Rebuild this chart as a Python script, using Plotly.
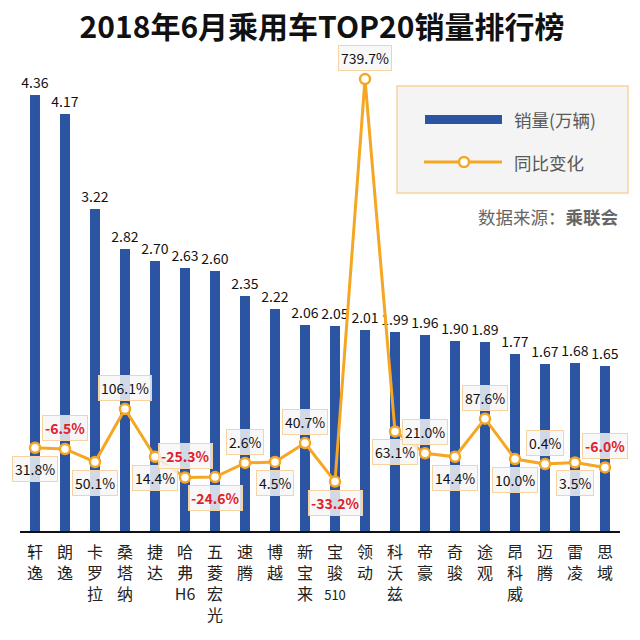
import re
import plotly.graph_objects as go

models = ["轩逸", "朗逸", "卡罗拉", "桑塔纳", "捷达", "哈弗H6", "五菱宏光", "速腾", "博越", "新宝来",
          "宝骏510", "领动", "科沃兹", "帝豪", "奇骏", "途观", "昂科威", "迈腾", "雷凌", "思域"]
sales = [4.36, 4.17, 3.22, 2.82, 2.70, 2.63, 2.60, 2.35, 2.22, 2.06,
         2.05, 2.01, 1.99, 1.96, 1.90, 1.89, 1.77, 1.67, 1.68, 1.65]
# year-on-year change as plotted (point positions)
yoy_values = [31.8, 29.4, 4.4, 106.1, 14.4, -25.3, -24.6, 2.6, 4.5, 40.7,
              -33.2, 739.7, 63.1, 21.0, 14.4, 87.6, 10.0, 0.4, 3.5, -6.0]
# year-on-year labels as printed
yoy_labels = ["31.8%", "-6.5%", "50.1%", "106.1%", "14.4%", "-25.3%", "-24.6%", "2.6%", "4.5%", "40.7%",
              "-33.2%", "739.7%", "63.1%", "21.0%", "14.4%", "87.6%", "10.0%", "0.4%", "3.5%", "-6.0%"]

BLUE = "#2B54A3"
ORANGE = "#F5A623"
FONT = "Noto Sans CJK SC"

OFF = 8  # page body margin
W, H = 640 - OFF, 640 - OFF
# plot area in page pixels: x 20..620, y 70..531
ML, MR, MT, MB = 20 - OFF, 640 - 620, 70 - OFF, 640 - 531
PW, PH = W - ML - MR, H - MT - MB


def px(x):
    return (x - OFF - ML) / PW


def py(y):
    return (H - MB - (y - OFF)) / PH


def vertical(name):
    parts = re.findall(r"[A-Za-z0-9]+|.", name)
    out = []
    for p in parts:
        if p.isdigit():
            out.append("<span style='font-size:13px'>%s</span>" % p)
        else:
            out.append(p)
    return "<br>".join(out)


tick_text = [vertical(m) for m in models]

fig = go.Figure()
fig.add_trace(go.Bar(
    x=models, y=sales, marker_color=BLUE, marker_line_width=0,
    texttemplate="%{y:.2f}", textposition="outside", cliponaxis=False, constraintext="none",
    textfont=dict(size=14, color="#111", family=FONT), name="销量（万辆）",
    showlegend=False,
))
fig.add_trace(go.Scatter(
    x=models, y=yoy_values, yaxis="y2", mode="lines+markers",
    line=dict(color=ORANGE, width=3),
    marker=dict(size=10, color="white", line=dict(color=ORANGE, width=2.5)),
    name="同比变化", showlegend=False, cliponaxis=False,
))

annotations = []
for i, (m, v, lab) in enumerate(zip(models, yoy_values, yoy_labels)):
    neg = lab.startswith("-")
    annotations.append(dict(
        x=m, y=v, xref="x", yref="y2", text=("<b>%s</b>" % lab) if neg else lab,
        showarrow=False, yshift=(-21 if i % 2 == 0 else 21),
        font=dict(size=14, color="#E0202A" if neg else "#111", family=FONT),
        bgcolor="rgba(246,246,246,0.82)", bordercolor="#F6D3A0", borderwidth=1, borderpad=2,
    ))

# legend (custom)
shapes = [
    dict(type="rect", xref="paper", yref="paper", x0=px(397), x1=px(628), y0=py(86), y1=py(193),
         fillcolor="#F4F4F4", line=dict(color="#F5D3A1", width=1.5), layer="above"),
    dict(type="rect", xref="paper", yref="paper", x0=px(425), x1=px(502), y0=py(115), y1=py(124),
         fillcolor=BLUE, line=dict(width=0), layer="above"),
    dict(type="line", xref="paper", yref="paper", x0=px(424), x1=px(502), y0=py(162), y1=py(162),
         line=dict(color=ORANGE, width=3), layer="above"),
    dict(type="circle", xref="paper", yref="paper", x0=px(459), x1=px(469), y0=py(157), y1=py(167),
         fillcolor="white", line=dict(color=ORANGE, width=2.5), layer="above"),
]
annotations += [
    dict(x=px(512), y=py(120), xref="paper", yref="paper", xanchor="left", yanchor="middle",
         text="销量(万辆)", showarrow=False, font=dict(size=17.5, color="#595959", family=FONT)),
    dict(x=px(512), y=py(162), xref="paper", yref="paper", xanchor="left", yanchor="middle",
         text="同比变化", showarrow=False, font=dict(size=17.5, color="#595959", family=FONT)),
    dict(x=px(621), y=py(216), xref="paper", yref="paper", xanchor="right", yanchor="middle",
         text="数据来源：<b>乘联会</b>", showarrow=False, font=dict(size=17.5, color="#666", family=FONT)),
]

fig.update_layout(
    width=W, height=H, margin=dict(l=ML, r=MR, t=MT, b=MB),
    paper_bgcolor="white", plot_bgcolor="white",
    title=dict(text="2018年6月乘用车TOP20销量排行榜", x=(322 - OFF) / W, xanchor="center",
               y=1 - (27 - OFF) / H, yanchor="middle", yref="container",
               font=dict(size=30, color="#111", family=FONT, weight="bold")),
    bargap=0.667,
    xaxis=dict(type="category", range=[-0.5, 19.5], showline=True, linecolor="#111", linewidth=2,
               ticks="", tickangle=0, tickmode="array", tickvals=models, ticktext=tick_text,
               ticklabelstandoff=6,
               tickfont=dict(size=16, color="#222", family=FONT), showgrid=False, zeroline=False),
    yaxis=dict(range=[0, 4.61], visible=False),
    yaxis2=dict(range=[-128.1, 757.1], overlaying="y", visible=False),
    shapes=shapes, annotations=annotations, showlegend=False,
    font=dict(family=FONT),
)

fig.write_html("out.html")
